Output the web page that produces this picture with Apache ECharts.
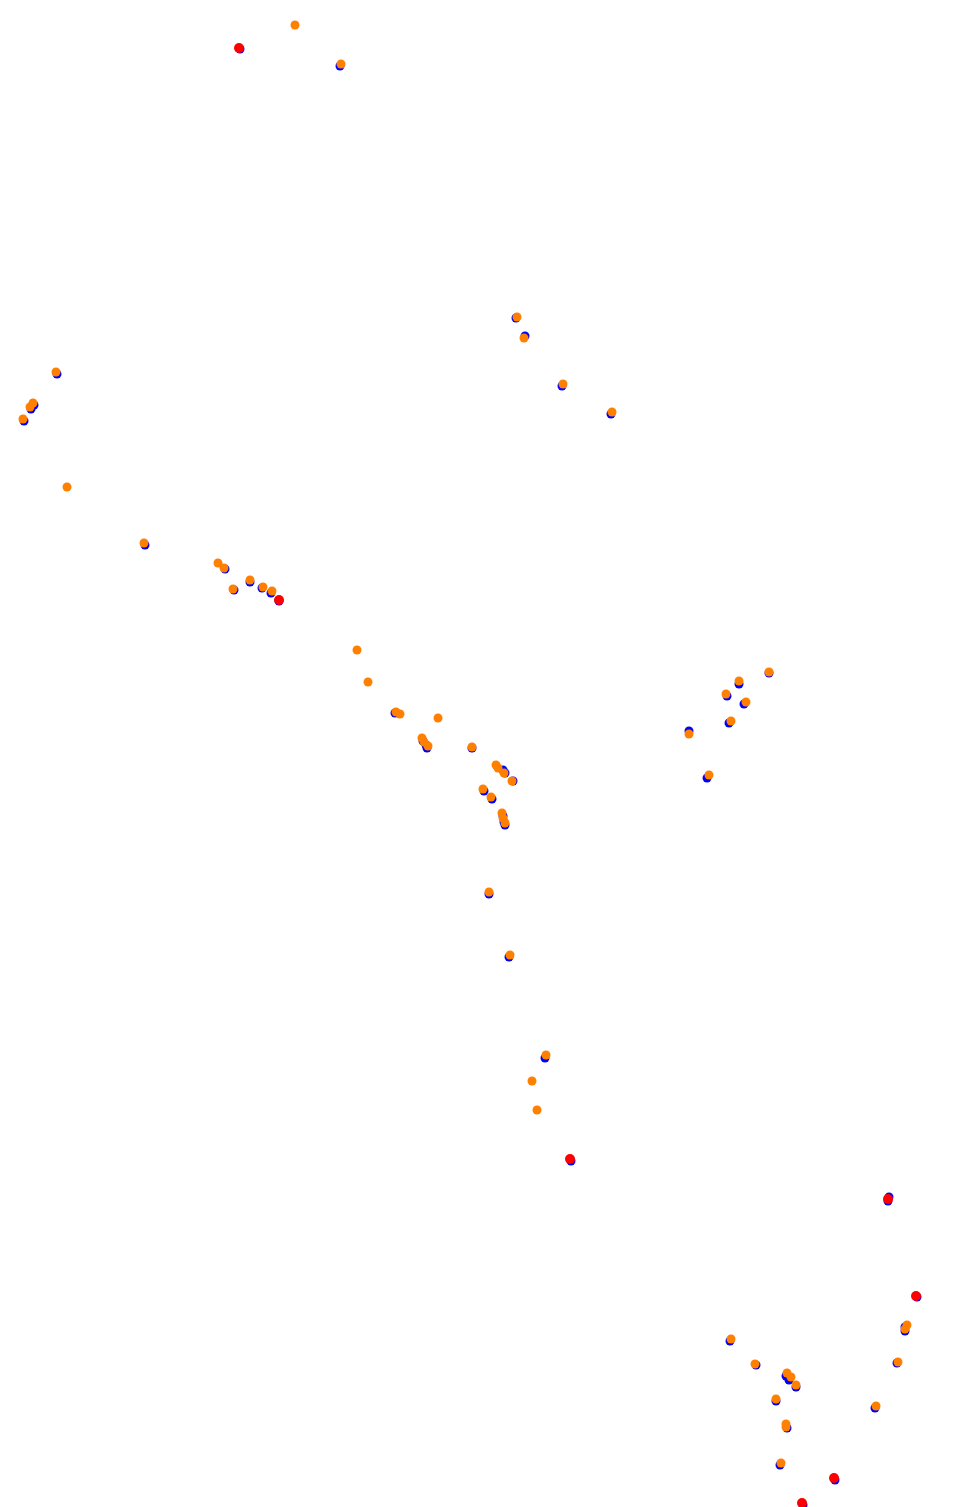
<!DOCTYPE html>
<html>
<head>
<meta charset="utf-8">
<script src="https://cdn.jsdelivr.net/npm/echarts@6/dist/echarts.min.js"></script>
<style>html,body{margin:0;padding:0;background:#fff}#chart{width:955px;height:1507px}</style>
</head>
<body>
<div id="chart"></div>
<script>
// Track positions (x, y)
const bluePoints = [
  [240,49],[340,66],
  [516,318],[525,336],[562,386],[611,414],
  [57,374],[34,405],[31,409],[24,421],[145,545],
  [225,569],[234,590],[250,582],[262,588],[271,593],[279,601],
  [395,713],[423,741],[426,745],[427,748],[472,748],
  [503,770],[505,773],[513,781],[484,791],[492,799],
  [503,816],[504,822],[505,825],
  [489,894],[509,957],[545,1058],[571,1161],
  [769,673],[739,684],[727,696],[744,704],[729,723],[689,731],[707,778],
  [888,1201],[889,1197],[917,1297],[905,1327],[905,1331],
  [730,1341],[897,1363],[756,1365],[786,1376],[789,1380],[796,1387],
  [776,1401],[875,1408],[787,1428],[780,1465],[835,1480],[803,1505]
];
const orangePoints = [
  [295,25],[341,64],
  [517,317],[524,338],[563,384],[612,412],
  [56,372],[33,403],[30,407],[23,419],[67,487],[144,543],
  [218,563],[224,568],[233,589],[250,580],[263,587],[272,591],
  [357,650],[368,682],[396,712],[400,714],[438,718],
  [422,738],[424,742],[428,746],[472,747],
  [496,765],[498,768],[504,773],[512,781],[483,789],[491,797],
  [502,813],[503,818],[505,823],
  [489,892],[510,955],[546,1055],[532,1081],[537,1110],
  [769,672],[739,681],[726,694],[746,702],[731,721],[689,734],[709,775],
  [907,1325],[905,1329],[731,1339],[898,1362],[755,1364],
  [787,1373],[791,1377],[796,1385],[776,1399],[876,1406],
  [786,1424],[786,1427],[781,1463]
];
const redPoints = [
  [239,48],[279,600],[570,1159],[888,1199],[916,1296],[834,1478],[802,1503]
];

const chart = echarts.init(document.getElementById('chart'), null, {renderer:'canvas'});
function mk(name, data, color, size) {
  return {type:'scatter', name:name, data:data, symbolSize:size, clip:false, animation:false,
    itemStyle:{color:color, opacity:1}, emphasis:{disabled:true}};
}
chart.setOption({
  animation:false,
  backgroundColor:'#ffffff',
  grid:{left:0,right:0,top:0,bottom:0,containLabel:false},
  xAxis:{type:'value',min:0,max:955,show:false},
  yAxis:{type:'value',min:0,max:1507,inverse:true,show:false},
  series:[
    mk('blue', bluePoints, '#0000ff', 9),
    mk('orange', orangePoints, '#ff8000', 9),
    mk('red', redPoints, '#ff0000', 10)
  ]
});
</script>
</body>
</html>
